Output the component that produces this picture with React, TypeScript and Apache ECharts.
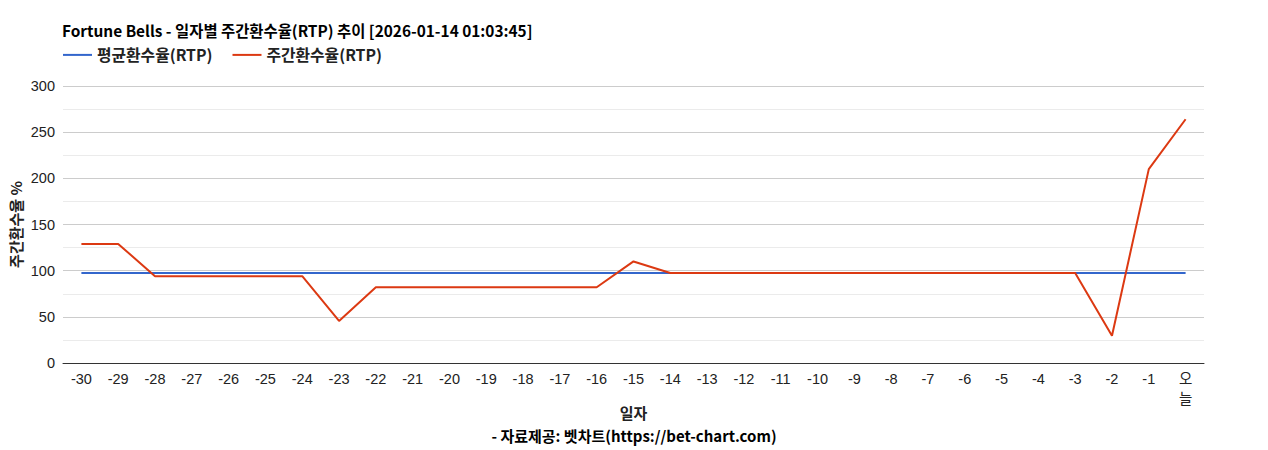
import React, { useEffect, useRef } from "react";
import * as echarts from "echarts";

const categories = [
  "-30", "-29", "-28", "-27", "-26", "-25", "-24", "-23", "-22", "-21",
  "-20", "-19", "-18", "-17", "-16", "-15", "-14", "-13", "-12", "-11",
  "-10", "-9", "-8", "-7", "-6", "-5", "-4", "-3", "-2", "-1", "오늘",
];

const avgRtp = [
  97.4, 97.4, 97.4, 97.4, 97.4, 97.4, 97.4, 97.4, 97.4, 97.4,
  97.4, 97.4, 97.4, 97.4, 97.4, 97.4, 97.4, 97.4, 97.4, 97.4,
  97.4, 97.4, 97.4, 97.4, 97.4, 97.4, 97.4, 97.4, 97.4, 97.4, 97.4,
];

const weeklyRtp = [
  129, 129, 94, 94, 94, 94, 94, 45.5, 82, 82,
  82, 82, 82, 82, 82, 110, 97.4, 97.4, 97.4, 97.4,
  97.4, 97.4, 97.4, 97.4, 97.4, 97.4, 97.4, 97.4, 29.5, 210, 264,
];

const yTicks = { min: 0, max: 300, interval: 50 };

const FONT = "'Liberation Sans', Arial, 'Noto Sans CJK KR', sans-serif";
const TITLE_FONT = "'Noto Sans CJK KR', 'Noto Sans', sans-serif";

export default function App() {
  const ref = useRef<HTMLDivElement>(null);

  useEffect(() => {
    if (!ref.current) return;
    const chart = echarts.init(ref.current, undefined, { renderer: "svg" });
    chart.setOption({
      animation: false,
      backgroundColor: "#ffffff",
      title: {
        text: "Fortune Bells - 일자별 주간환수율(RTP) 추이 [2026-01-14 01:03:45]",
        left: 57,
        top: 17,
        textStyle: {
          fontFamily: TITLE_FONT,
          fontSize: 15.4,
          fontWeight: "bold",
          color: "#000",
        },
      },
      legend: {
        left: 58,
        top: 42,
        icon: "rect",
        itemWidth: 29,
        itemHeight: 2,
        itemGap: 20,
        textStyle: {
          fontFamily: TITLE_FONT,
          fontSize: 15.8,
          fontWeight: "bold",
          color: "#222",
        },
        data: ["평균환수율(RTP)", "주간환수율(RTP)"],
      },
      grid: { left: 63, right: 64, top: 86, bottom: 87, containLabel: false },
      xAxis: {
        type: "category",
        data: categories,
        boundaryGap: true,
        name: "일자",
        nameLocation: "middle",
        nameGap: 42,
        nameMoveOverlap: false,
        nameTextStyle: {
          fontFamily: TITLE_FONT,
          fontSize: 15,
          fontWeight: "bold",
          color: "#222",
        },
        axisLine: { lineStyle: { color: "#333", width: 1 } },
        axisTick: { show: false },
        axisLabel: {
          interval: 0,
          fontFamily: FONT,
          fontSize: 14.5,
          color: "#222",
          margin: 6,
          lineHeight: 20,
          formatter: (v: string) => (v === "오늘" ? "오\n늘" : v),
        },
      },
      yAxis: {
        type: "value",
        min: yTicks.min,
        max: yTicks.max,
        interval: yTicks.interval,
        name: "주간환수율 %",
        nameLocation: "middle",
        nameGap: 40,
        nameMoveOverlap: false,
        nameTextStyle: {
          fontFamily: TITLE_FONT,
          fontSize: 15,
          fontWeight: "bold",
          color: "#222",
        },
        axisLine: { show: false },
        axisTick: { show: false },
        axisLabel: {
          fontFamily: FONT,
          fontSize: 14.5,
          color: "#222",
          margin: 8,
        },
        splitLine: { lineStyle: { color: "#cccccc", width: 1 } },
        minorTick: { show: false, splitNumber: 2 },
        minorSplitLine: { show: true, lineStyle: { color: "#ebebeb", width: 1 } },
      },
      graphic: [
        {
          type: "text",
          left: "center",
          top: 428,
          style: {
            text: "- 자료제공: 벳차트(https://bet-chart.com)",
            fontFamily: TITLE_FONT,
            fontSize: 15,
            fontWeight: "bold",
            fill: "#000",
          },
        },
      ],
      series: [
        {
          name: "평균환수율(RTP)",
          type: "line",
          data: avgRtp,
          symbol: "none",
          lineStyle: { color: "#3366cc", width: 2 },
          itemStyle: { color: "#3366cc" },
          z: 2,
        },
        {
          name: "주간환수율(RTP)",
          type: "line",
          data: weeklyRtp,
          symbol: "none",
          lineStyle: { color: "#dc3912", width: 2 },
          itemStyle: { color: "#dc3912" },
          z: 3,
        },
      ],
    });
    return () => chart.dispose();
  }, []);

  return (
    <div
      ref={ref}
      style={{ position: "fixed", left: 0, top: 0, width: 1268, height: 450 }}
    />
  );
}
